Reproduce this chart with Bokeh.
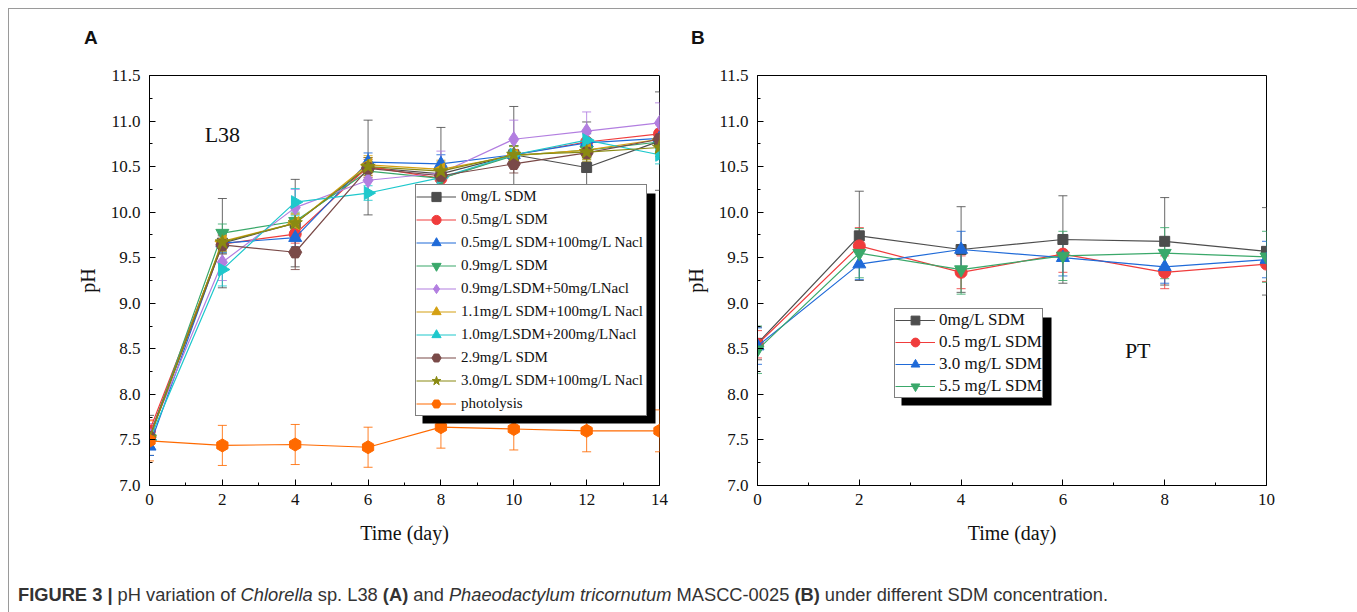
import numpy as np
from bokeh.plotting import figure
from bokeh.models import (Range1d, FixedTicker, Legend, LegendItem, BoxAnnotation,
                          Label, Div, PrintfTickFormatter)
from bokeh.layouts import column, row
from bokeh.embed import file_html
from bokeh.resources import INLINE

# ---------------- data: panel A (Chlorella sp. L38) ----------------
days_a = [0, 2, 4, 6, 8, 10, 12, 14]
labels_a = ["0mg/L SDM", "0.5mg/L SDM", "0.5mg/L SDM+100mg/L Nacl", "0.9mg/L SDM",
            "0.9mg/LSDM+50mg/LNacl", "1.1mg/L SDM+100mg/L Nacl", "1.0mg/LSDM+200mg/LNacl",
            "2.9mg/L SDM", "3.0mg/L SDM+100mg/L Nacl", "photolysis"]
a_0sdm = [7.55, 9.66, 9.88, 10.49, 10.42, 10.63, 10.49, 10.78]
a_0sdm_err = [0.22, 0.49, 0.48, 0.52, 0.51, 0.53, 0.50, 0.54]
a_05sdm = [7.60, 9.65, 9.76, 10.50, 10.37, 10.63, 10.77, 10.86]
a_05sdm_err = [0.12, 0.10, 0.10, 0.10, 0.10, 0.10, 0.10, 0.10]
a_05nacl = [7.43, 9.66, 9.72, 10.55, 10.53, 10.63, 10.76, 10.81]
a_05nacl_err = [0.10, 0.10, 0.10, 0.10, 0.10, 0.10, 0.10, 0.10]
a_09sdm = [7.52, 9.77, 9.90, 10.45, 10.37, 10.62, 10.68, 10.77]
a_09sdm_err = [0.12, 0.10, 0.10, 0.10, 0.10, 0.10, 0.10, 0.10]
a_09nacl = [7.55, 9.45, 10.05, 10.35, 10.43, 10.80, 10.89, 10.98]
a_09nacl_err = [0.13, 0.20, 0.20, 0.15, 0.24, 0.21, 0.21, 0.22]
a_11nacl = [7.52, 9.68, 9.88, 10.52, 10.47, 10.62, 10.68, 10.80]
a_11nacl_err = [0.10, 0.10, 0.10, 0.10, 0.10, 0.10, 0.10, 0.10]
a_10nacl = [7.50, 9.37, 10.11, 10.21, 10.38, 10.63, 10.79, 10.63]
a_10nacl_err = [0.10, 0.18, 0.15, 0.08, 0.10, 0.10, 0.10, 0.10]
a_29sdm = [7.53, 9.64, 9.56, 10.48, 10.40, 10.53, 10.65, 10.80]
a_29sdm_err = [0.10, 0.10, 0.19, 0.10, 0.10, 0.10, 0.10, 0.10]
a_30nacl = [7.52, 9.67, 9.88, 10.50, 10.45, 10.63, 10.66, 10.71]
a_30nacl_err = [0.10, 0.10, 0.10, 0.10, 0.10, 0.10, 0.10, 0.10]
a_photo = [7.49, 7.44, 7.45, 7.42, 7.64, 7.62, 7.60, 7.60]
a_photo_err = [0.22, 0.22, 0.22, 0.22, 0.23, 0.23, 0.23, 0.23]

# ---------------- data: panel B (Phaeodactylum tricornutum) ----------------
days_b = [0, 2, 4, 6, 8, 10]
labels_b = ["0mg/L SDM", "0.5 mg/L SDM", "3.0 mg/L SDM", "5.5 mg/L SDM"]
b_0 = [8.56, 9.74, 9.59, 9.70, 9.68, 9.57]
b_0_err = [0.18, 0.49, 0.47, 0.48, 0.48, 0.48]
b_05 = [8.55, 9.63, 9.34, 9.54, 9.34, 9.43]
b_05_err = [0.15, 0.20, 0.18, 0.20, 0.18, 0.19]
b_30 = [8.53, 9.43, 9.59, 9.50, 9.40, 9.48]
b_30_err = [0.20, 0.17, 0.20, 0.20, 0.18, 0.20]
b_55 = [8.49, 9.55, 9.37, 9.52, 9.55, 9.51]
b_55_err = [0.26, 0.27, 0.27, 0.27, 0.28, 0.28]

y_ticks = [7.0, 7.5, 8.0, 8.5, 9.0, 9.5, 10.0, 10.5, 11.0, 11.5]
y_minor = [7.25, 7.75, 8.25, 8.75, 9.25, 9.75, 10.25, 10.75, 11.25]
xa_ticks = [0, 2, 4, 6, 8, 10, 12, 14]
xa_minor = [1, 3, 5, 7, 9, 11, 13]
xb_ticks = [0, 2, 4, 6, 8, 10]
xb_minor = [1, 3, 5, 7, 9]

SERIF = "Liberation Serif"
SANS = "Liberation Sans"

# style: (color, marker, size, angle)
styles_a = [
    ("#4d4d4d", "square", 10, 0.0),
    ("#f03c3c", "circle", 12, 0.0),
    ("#1f6ad8", "triangle", 13, 0.0),
    ("#3aa86a", "inverted_triangle", 13, 0.0),
    ("#b27ee0", "diamond", 15, 0.0),
    ("#d4a012", "triangle", 13, np.pi / 2),
    ("#1ec8cc", "triangle", 13, -np.pi / 2),
    ("#7a4a48", "hex", 13, 0.0),
    ("#8a8a12", "star", 15, 0.0),
    ("#ff6a00", "hex", 13, np.pi / 2),
]
series_a = [(a_0sdm, a_0sdm_err), (a_05sdm, a_05sdm_err), (a_05nacl, a_05nacl_err),
            (a_09sdm, a_09sdm_err), (a_09nacl, a_09nacl_err), (a_11nacl, a_11nacl_err),
            (a_10nacl, a_10nacl_err), (a_29sdm, a_29sdm_err), (a_30nacl, a_30nacl_err),
            (a_photo, a_photo_err)]
styles_b = [styles_a[0], styles_a[1], styles_a[2], styles_a[3]]
series_b = [(b_0, b_0_err), (b_05, b_05_err), (b_30, b_30_err), (b_55, b_55_err)]

HEADER_H = 40


def make_fig(width, xmax, left, right, xt, xm):
    p = figure(width=width, height=560 - HEADER_H, x_range=Range1d(0, xmax), y_range=Range1d(7.0, 11.5),
               output_backend="svg", toolbar_location=None,
               min_border_left=left, min_border_right=right, min_border_top=66 - HEADER_H,
               min_border_bottom=84, x_axis_label="Time (day)", y_axis_label="pH")
    p.grid.visible = False
    p.outline_line_color = "black"
    p.outline_line_width = 1
    p.outline_line_alpha = 1
    p.background_fill_color = "white"
    p.border_fill_color = "white"
    p.xaxis.ticker = FixedTicker(ticks=xt, minor_ticks=xm)
    p.yaxis.ticker = FixedTicker(ticks=y_ticks, minor_ticks=y_minor)
    p.yaxis.formatter = PrintfTickFormatter(format="%.1f")
    for ax in list(p.xaxis) + list(p.yaxis):
        ax.major_tick_in = 6
        ax.major_tick_out = 0
        ax.minor_tick_in = 3
        ax.minor_tick_out = 0
        ax.axis_line_color = "black"
        ax.major_tick_line_color = "black"
        ax.minor_tick_line_color = "black"
        ax.major_label_text_font = SERIF
        ax.major_label_text_font_size = "17px"
        ax.major_label_text_color = "#111111"
        ax.axis_label_text_font = SERIF
        ax.axis_label_text_font_size = "20px"
        ax.axis_label_text_font_style = "normal"
        ax.axis_label_text_color = "#111111"
    p.xaxis.major_label_standoff = 8
    p.xaxis.axis_label_standoff = 14
    p.yaxis.major_label_standoff = 9
    p.yaxis.axis_label_standoff = 9
    return p


def draw_series(p, days, series, styles, labels):
    items = []
    for (vals, errs), (col, mk, sz, ang), lab in zip(series, styles, labels):
        v = np.array(vals)
        e = np.array(errs)
        p.segment(x0=days, y0=v - e, x1=days, y1=v + e, line_color=col, line_width=1, line_alpha=0.85)
        p.scatter(x=days + days, y=list(v - e) + list(v + e), marker="dash", size=9,
                  line_color=col, line_width=1, line_alpha=0.85)
    for (vals, errs), (col, mk, sz, ang), lab in zip(series, styles, labels):
        lr = p.line(x=days, y=vals, line_color=col, line_width=1.2)
        sr = p.scatter(x=days, y=vals, marker=mk, size=sz, angle=ang,
                       fill_color=col, line_color=col, line_width=1)
        items.append(LegendItem(label=lab, renderers=[lr, sr]))
    return items


FH = 410.0
sh = 7

# ---------------- Panel A ----------------
pA = make_fig(668, 14, 140, 18, xa_ticks, xa_minor)
items_a = draw_series(pA, days_a, series_a, styles_a, labels_a)
FW_A = 510.0
legA_x, legA_y, legA_w, legA_h = 266, 69, 231, 230
shadowA = BoxAnnotation(left=(legA_x + sh) / FW_A * 14, right=(legA_x + legA_w + sh + 2) / FW_A * 14,
                        top=7.0 + (legA_y + legA_h - sh) / FH * 4.5, bottom=7.0 + (legA_y - sh) / FH * 4.5,
                        fill_color="black", fill_alpha=1, line_color=None)
legA = Legend(items=items_a, location=(legA_x, legA_y), orientation="vertical",
              label_text_font=SERIF, label_text_font_size="15px", label_text_color="#111111",
              label_height=23, glyph_height=23, glyph_width=40, spacing=0, padding=0, margin=0,
              label_standoff=5, label_width=185, border_line_color="black", border_line_width=1,
              background_fill_color="white", background_fill_alpha=1)
pA.add_layout(shadowA)
pA.add_layout(legA)
pA.add_layout(Label(x=2.0, y=10.85, text="L38", text_font=SERIF, text_font_size="22px",
                    text_align="center", text_baseline="middle", text_color="#111111"))

# ---------------- Panel B ----------------
pB = make_fig(671, 10, 80, 82, xb_ticks, xb_minor)
items_b = draw_series(pB, days_b, series_b, styles_b, labels_b)
FW_B = 509.0
legB_x, legB_y, legB_w, legB_h = 137, 87, 150, 88
shadowB = BoxAnnotation(left=(legB_x + sh) / FW_B * 10, right=(legB_x + legB_w + sh) / FW_B * 10,
                        top=7.0 + (legB_y + legB_h - sh) / FH * 4.5, bottom=7.0 + (legB_y - sh) / FH * 4.5,
                        fill_color="black", fill_alpha=1, line_color=None)
legB = Legend(items=items_b, location=(legB_x, legB_y), orientation="vertical",
              label_text_font=SERIF, label_text_font_size="17px", label_text_color="#111111",
              label_height=22, glyph_height=22, glyph_width=40, spacing=0, padding=0, margin=0,
              label_standoff=4, border_line_color="black", border_line_width=1,
              background_fill_color="white", background_fill_alpha=1)
pB.add_layout(shadowB)
pB.add_layout(legB)
pB.add_layout(Label(x=7.47, y=8.48, text="PT", text_font=SERIF, text_font_size="22px",
                    text_align="center", text_baseline="middle", text_color="#111111"))

header = Div(
    text=('<div style="position:relative; width:1339px; height:40px; '
          'font-family:\'Liberation Sans\',Arial,sans-serif; font-size:19px; font-weight:bold; '
          'color:#111; line-height:1">'
          '<span style="position:absolute; left:75px; top:19px">A</span>'
          '<span style="position:absolute; left:682px; top:19px">B</span></div>'),
    width=1339, height=HEADER_H, margin=0)

caption = Div(
    text=('<div style="padding:11px 0 0 4px; font-family:\'Liberation Sans\',Arial,sans-serif; '
          'font-size:18.3px; color:#333; white-space:nowrap; line-height:1.1">'
          '<b>FIGURE 3 |</b> pH variation of <i>Chlorella</i> sp. L38 <b>(A)</b> and '
          '<i>Phaeodactylum tricornutum</i> MASCC-0025 <b>(B)</b> under different SDM concentration.</div>'),
    width=1339, height=35)

layout = column(header, row(pA, pB), caption,
                styles={"border": "1px solid #9a9a9a", "background-color": "white",
                        "margin-left": "8px", "margin-top": "8px"})

open("out.html", "w").write(file_html(layout, INLINE))
